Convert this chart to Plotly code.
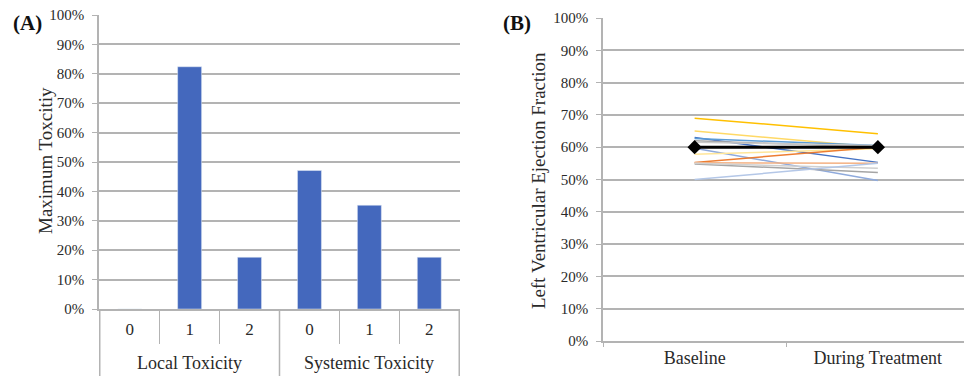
import plotly.graph_objects as go

# Panel A data
groups = ["Local Toxicity"] * 3 + ["Systemic Toxicity"] * 3
grades = ["0", "1", "2", "0", "1", "2"]
max_tox = [0.0, 0.824, 0.176, 0.471, 0.353, 0.176]
group_names = ["Local Toxicity", "Systemic Toxicity"]

# Panel B data
timepoints = ["Baseline", "During Treatment"]
lvef_baseline = [0.69, 0.65, 0.63, 0.627, 0.62, 0.615, 0.597, 0.578, 0.553, 0.552, 0.548, 0.55, 0.50]
lvef_during = [0.642, 0.60, 0.553, 0.605, 0.60, 0.605, 0.497, 0.595, 0.60, 0.55, 0.522, 0.535, 0.55]
lvef_colors = ["#FFC000", "#FFD966", "#4472C4", "#5B9BD5", "#A5A5A5", "#C9C9C9",
               "#8FAADC", "#FFE699", "#ED7D31", "#F4B183", "#A5A5A5", "#D0D0D0", "#B4C7E7"]
mean_values = [0.60, 0.60]

FONT = "Liberation Serif"
GRID = "#b3b3b3"
TXT = "#2a2a2a"
H = 378.0

x_keys = [f"{g} | {v}" for g, v in zip(groups, grades)]

fig = go.Figure()

fig.add_trace(go.Bar(
    x=x_keys, y=max_tox, marker_color="#4468BD",
    width=0.4, xaxis="x", yaxis="y", showlegend=False,
))

for b, d, c in zip(lvef_baseline, lvef_during, lvef_colors):
    fig.add_trace(go.Scatter(
        x=timepoints, y=[b, d], mode="lines", line=dict(color=c, width=1.5),
        xaxis="x2", yaxis="y2", showlegend=False,
    ))
fig.add_trace(go.Scatter(
    x=timepoints, y=mean_values, mode="lines+markers",
    line=dict(color="black", width=3),
    marker=dict(symbol="diamond", size=11, color="black"),
    xaxis="x2", yaxis="y2", showlegend=False,
))

yaxis_common = dict(
    range=[0, 1], dtick=0.1, tickformat=".0%", showgrid=True, gridcolor=GRID,
    gridwidth=1.5, showline=True, linecolor=GRID, linewidth=1.5,
    ticks="outside", ticklen=5, tickcolor=GRID, zeroline=False,
    ticklabelstandoff=5, automargin=False,
    tickfont=dict(family=FONT, size=15, color=TXT),
)

# group labels and group dividers below the category axis of panel A
annotations = []
shapes = []
n_per_group = 3
for i, name in enumerate(group_names):
    annotations.append(dict(
        text=name, x=x_keys[i * n_per_group + 1], xref="x", y=1 - 363 / H, yref="paper",
        xanchor="center", yanchor="middle", showarrow=False,
        font=dict(family=FONT, size=18, color=TXT)))
for k in range(len(group_names) + 1):
    shapes.append(dict(
        type="line", xref="x", yref="paper",
        x0=k * n_per_group - 0.5, x1=k * n_per_group - 0.5,
        y0=1 - 309 / H, y1=1 - 376 / H,
        line=dict(color=GRID, width=1.5)))

annotations += [
    dict(text="<b>(A)</b>", x=11 / 964, y=1 - 23 / H, xref="paper", yref="paper",
         xanchor="left", yanchor="middle", showarrow=False,
         font=dict(family=FONT, size=21, color="#111")),
    dict(text="<b>(B)</b>", x=501 / 964, y=1 - 23 / H, xref="paper", yref="paper",
         xanchor="left", yanchor="middle", showarrow=False,
         font=dict(family=FONT, size=21, color="#111")),
    dict(text="Maximum Toxcitiy", textangle=-90, x=45 / 964, y=1 - 161 / H,
         xref="paper", yref="paper", xanchor="center", yanchor="middle", showarrow=False,
         font=dict(family=FONT, size=19, color=TXT)),
    dict(text="Left Ventricular Ejection Fraction", textangle=-90, x=538 / 964, y=1 - 181 / H,
         xref="paper", yref="paper", xanchor="center", yanchor="middle", showarrow=False,
         font=dict(family=FONT, size=19, color=TXT)),
]

fig.update_layout(
    width=964, height=378,
    margin=dict(l=0, r=0, t=0, b=0, autoexpand=False),
    paper_bgcolor="white", plot_bgcolor="white",
    font=dict(family=FONT, color=TXT),
    xaxis=dict(
        domain=[99 / 964, 460 / 964], anchor="y", type="category",
        tickvals=x_keys, ticktext=grades,
        showline=True, linecolor=GRID, linewidth=1.5, automargin=False,
        ticks="outside", tickson="boundaries", ticklen=33, tickcolor=GRID,
        ticklabelstandoff=4,
        tickfont=dict(family=FONT, size=17, color=TXT),
    ),
    yaxis=dict(domain=[1 - 309 / H, 1 - 15 / H], anchor="x", **yaxis_common),
    xaxis2=dict(
        domain=[603 / 964, 1.0], anchor="y2", range=[-0.5, 1.47],
        showline=True, linecolor=GRID, linewidth=1.5, automargin=False,
        ticks="outside", tickson="boundaries", ticklen=4, tickcolor=GRID,
        tickfont=dict(family=FONT, size=18, color=TXT),
    ),
    yaxis2=dict(domain=[1 - 341 / H, 1 - 18 / H], anchor="x2", **yaxis_common),
    annotations=annotations,
    shapes=shapes,
)

fig.write_html("out.html", config={"displayModeBar": False},
               post_script="document.body.style.margin='0';")
